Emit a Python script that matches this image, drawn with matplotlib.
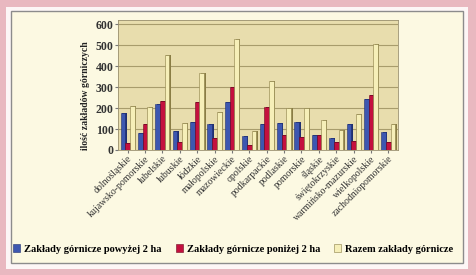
import numpy as np
import matplotlib
matplotlib.use("Agg")
import matplotlib.pyplot as plt
from matplotlib.patches import Rectangle

# województwa
regions = ["dolnośląskie", "kujawsko-pomorskie", "lubelskie", "lubuskie",
           "łódzkie", "małopolskie", "mazowieckie", "opolskie",
           "podkarpackie", "podlaskie", "pomorskie", "śląskie",
           "świętokrzyskie", "warmińsko-mazurskie", "wielkopolskie",
           "zachodniopomorskie"]

powyzej = [175, 80, 220, 90, 135, 125, 230, 65, 125, 130, 135, 72, 55, 125, 245, 85]
ponizej = [35, 125, 235, 40, 230, 55, 300, 25, 205, 70, 60, 70, 40, 45, 260, 38]
razem = [210, 205, 455, 130, 365, 180, 530, 90, 330, 200, 198, 145, 95, 170, 505, 123]

yticks = [0, 100, 200, 300, 400, 500, 600]

series = [
    ("Zakłady górnicze powyżej 2 ha", powyzej, "#3d57b0", "#1f2f70"),
    ("Zakłady górnicze poniżej 2 ha", ponizej, "#c4103e", "#6e0820"),
    ("Razem zakłady górnicze", razem, "#f6efb8", "#8a7d45"),
]

fig = plt.figure(figsize=(4.76, 2.75), dpi=100)
fig.patch.set_facecolor("#e9b8c0")

# ramki
W, H = 476.0, 275.0
fig.patches.append(Rectangle((6 / W, 6 / H), 1 - 14 / W, 1 - 13 / H,
                             transform=fig.transFigure, facecolor="#fdf6f6",
                             edgecolor="none", zorder=-2))
fig.patches.append(Rectangle((11 / W, 12 / H), 1 - 24 / W, 1 - 23 / H,
                             transform=fig.transFigure, facecolor="#fcf9e2",
                             edgecolor="#8c8c8c", linewidth=1.0, zorder=-1))

ax = fig.add_axes([118 / W, 1 - 150 / H, 280 / W, 130 / H])
ax.set_facecolor("#e8ddad")
ax.set_zorder(1)

x = np.arange(len(regions))
w = 0.27
dx = 0.08
for i, (name, vals, col, dark) in enumerate(series):
    xs = x + (i - 1) * w
    # boczna scianka (efekt 3D)
    ax.bar(xs + dx, vals, w, color=dark, edgecolor="none", zorder=3)
    ax.bar(xs, vals, w, color=col, edgecolor=dark, linewidth=0.4,
           zorder=4, label=name)

ax.set_xlim(-0.55, len(regions) - 0.45)
ax.set_ylim(0, 620)
ax.set_yticks(yticks)
ax.set_yticklabels([str(v) for v in yticks], fontfamily="Liberation Serif",
                   fontweight="bold", fontsize=8.5, color="#333333")
ax.yaxis.grid(True, color="#a89c6c", linewidth=0.8)
ax.set_axisbelow(True)
for s in ax.spines.values():
    s.set_color("#9a9070")
    s.set_linewidth(0.6)
ax.tick_params(axis="both", length=2, color="#777777", pad=1)

ax.set_xticks(x)
ax.set_xticklabels(regions, rotation=45, ha="right", rotation_mode="anchor",
                   fontfamily="Liberation Serif", fontsize=7, color="#333333")

ax.set_ylabel("ilość zakładów górniczych", fontfamily="Liberation Serif",
              fontweight="bold", fontsize=7, color="#222222")
ax.yaxis.set_label_coords(-0.1, 0.42)

leg = fig.legend(loc="lower center", bbox_to_anchor=(0.49, 12 / H), ncol=3,
                 frameon=False, handlelength=0.7, handleheight=0.7,
                 handletextpad=0.4, columnspacing=1.3,
                 prop={"family": "Liberation Serif", "weight": "bold", "size": 7.5})

fig.savefig("out.png", dpi=100, facecolor=fig.get_facecolor())
